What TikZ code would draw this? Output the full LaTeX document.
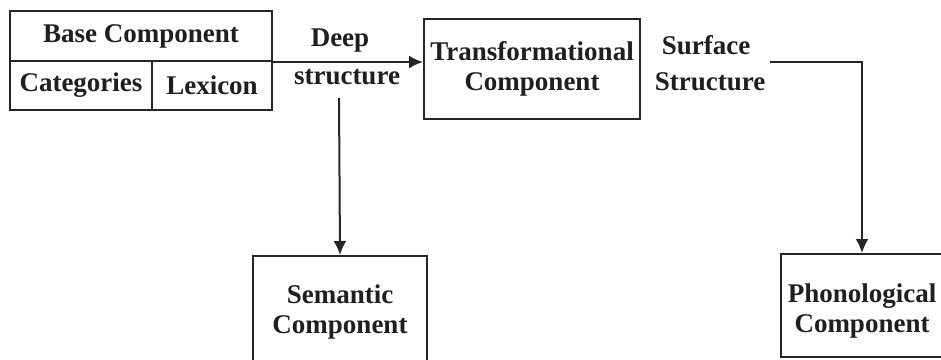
\documentclass[tikz,border=0pt]{standalone}
\usepackage{fontspec}
\setmainfont{Liberation Serif}
\usetikzlibrary{arrows.meta}
\begin{document}
\begin{tikzpicture}[x=1pt,y=-1pt,
  every node/.style={font=\fontsize{27}{30}\selectfont\bfseries, text=black!88},
  cell/.style={draw=black!85, line width=2pt, inner sep=0pt, align=center},
  lbl/.style={inner sep=0pt},
  conn/.style={draw=black!85, line width=2pt, -{Latex[length=14pt,width=13pt]}}]
\clip (0,0) rectangle (941,359);
\fill[white] (0,0) rectangle (941,359);
% base component table
\node[cell, minimum width=262pt, minimum height=50pt] (base) at (141,36) {Base Component};
\node[cell, minimum width=142pt, minimum height=49pt] (cat) at (81,85.5) {Categories};
\node[cell, minimum width=120pt, minimum height=49pt] (lex) at (212,85.5) {Lexicon};
% other components
\node[cell, minimum width=216pt, minimum height=100pt] (trans) at (532,69) {Transformational\\Component};
\node[cell, minimum width=174pt, minimum height=112pt] (sem) at (340,312) {Semantic\\Component};
\node[cell, minimum width=162pt, minimum height=103pt] (phon) at (862,305.5) {\rule{0pt}{29pt}Phonological\\Component};
% labels
\node[lbl] (deep1) at (340,41) {Deep};
\node[lbl] (deep2) at (347,77) {structure};
\node[lbl] (surf1) at (706,45) {Surface};
\node[lbl] (surf2) at (710,82) {Structure};
% free ends
\coordinate (dsfree) at (339,98);
\coordinate (ssfree) at (770,62);
% connectors
\draw[conn] (base.south east) -- (trans.west |- base.south east);
\draw[conn] (dsfree) -- (sem.north);
\draw[conn] (ssfree) -| (phon.north);
\end{tikzpicture}
\end{document}
